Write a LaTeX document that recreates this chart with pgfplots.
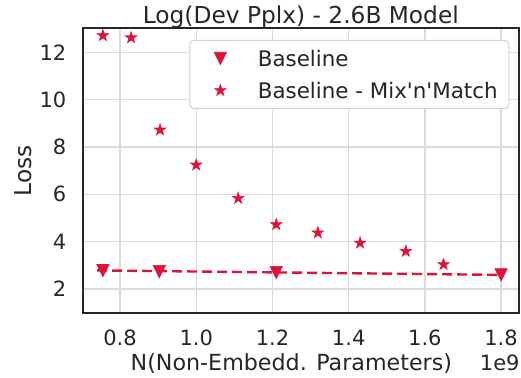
\documentclass[border=0pt]{standalone}
\usepackage{pgfplots}
\pgfplotsset{compat=1.18}
\usepackage{fontspec}
\setmainfont{DejaVu Sans}[Ligatures=TeXOff]
\definecolor{crim}{HTML}{DC143C}
\definecolor{txt}{HTML}{262626}
\pgfdeclareplotmark{fstar}{%
  \pgfpathmoveto{\pgfpointpolar{90}{\pgfplotmarksize}}%
  \pgfpathlineto{\pgfpointpolar{126}{0.382\pgfplotmarksize}}%
  \pgfpathlineto{\pgfpointpolar{162}{\pgfplotmarksize}}%
  \pgfpathlineto{\pgfpointpolar{198}{0.382\pgfplotmarksize}}%
  \pgfpathlineto{\pgfpointpolar{234}{\pgfplotmarksize}}%
  \pgfpathlineto{\pgfpointpolar{270}{0.382\pgfplotmarksize}}%
  \pgfpathlineto{\pgfpointpolar{306}{\pgfplotmarksize}}%
  \pgfpathlineto{\pgfpointpolar{342}{0.382\pgfplotmarksize}}%
  \pgfpathlineto{\pgfpointpolar{18}{\pgfplotmarksize}}%
  \pgfpathlineto{\pgfpointpolar{54}{0.382\pgfplotmarksize}}%
  \pgfpathclose
  \pgfusepathqfillstroke}
\pgfdeclareplotmark{tdown}{%
  \pgfpathmoveto{\pgfqpoint{0pt}{-\pgfplotmarksize}}%
  \pgfpathlineto{\pgfqpoint{-\pgfplotmarksize}{\pgfplotmarksize}}%
  \pgfpathlineto{\pgfqpoint{\pgfplotmarksize}{\pgfplotmarksize}}%
  \pgfpathclose
  \pgfusepathqfillstroke}
\begin{document}
\begin{tikzpicture}
\begin{axis}[
  name=ax,
  scale only axis, width=218.15pt, height=142.5pt,
  xmin=0.702, xmax=1.847, ymin=0.98, ymax=13.03,
  xtick={0.8,1.0,1.2,1.4,1.6,1.8}, ytick={2,4,6,8,10,12},
  grid=major, major grid style={color=black!14, line width=0.75pt},
  axis line style={color=txt, line width=1.1pt},
  major tick length=0pt,
  /pgf/number format/assume math mode=true,
  xticklabel style={/pgf/number format/fixed, /pgf/number format/fixed zerofill, /pgf/number format/precision=1,
    anchor=base, inner sep=0pt, yshift=-16.5pt},
  yticklabel style={anchor=east, inner sep=0pt, xshift=-8pt},
  ticklabel style={font=\fontsize{10.5}{12}\selectfont, color=txt},
  title={Log(Dev Pplx) - 2.6B Model},
  title style={font=\fontsize{11.65}{13}\selectfont, color=txt, at={(0.5,1)}, anchor=base, inner sep=0pt, yshift=-3.75pt},
  xlabel={N(Non-Embedd. Parameters)},
  xlabel style={font=\fontsize{11.1}{13}\selectfont, color=txt, at={(0.5,0)}, anchor=base, inner sep=0pt, yshift=-28.6pt, xshift=-4.75pt},
  ylabel={Loss},
  ylabel style={font=\fontsize{11.65}{13}\selectfont, color=txt, at={(0,0.5)}, anchor=base, inner sep=0pt, yshift=25.5pt},
  legend style={at={(0.9778,0.958)}, anchor=north east, draw=black!18, line width=0.5pt, rounded corners=2pt,
    fill=white, font=\fontsize{10.7}{12}\selectfont, text=txt, row sep=8.2pt, inner xsep=5.6pt, inner ysep=5.1pt,
    nodes={inner sep=0pt, text height=7.8pt, text depth=0pt}},
  legend cell align=left,
  legend image code/.code={\path (0pt,0pt) (27.9pt,0pt); \draw[#1] plot coordinates {(9.4pt,0pt)};},
]
\addplot[only marks, mark=tdown, mark size=3.1pt, color=crim, mark options={line width=0.3pt}]
  coordinates {(0.755,2.77) (0.903,2.73) (1.21,2.69) (1.8,2.59)};
\addlegendentry{Baseline}
\addplot[only marks, mark=fstar, mark size=3.05pt, color=crim, mark options={line width=0.3pt}]
  coordinates {(0.755,12.71) (0.829,12.62) (0.905,8.72) (1.0,7.24) (1.11,5.83) (1.21,4.72) (1.319,4.37) (1.43,3.94) (1.55,3.59) (1.649,3.03)};
\addlegendentry{Baseline - Mix'n'Match}
\addplot[forget plot, color=crim, line width=1.2pt, dash pattern=on 5pt off 2.5pt]
  coordinates {(0.74,2.78) (1.8,2.59)};
\end{axis}
\node[anchor=base east, font=\fontsize{10.5}{12}\selectfont, text=txt, inner sep=0pt] at ([xshift=0.5pt,yshift=-28.6pt]ax.south east) {1e9};
\pgfresetboundingbox
\path[use as bounding box] ([xshift=-41.35pt,yshift=-32.5pt]ax.south west) rectangle ([xshift=1pt,yshift=14pt]ax.north east);
\end{tikzpicture}
\end{document}
